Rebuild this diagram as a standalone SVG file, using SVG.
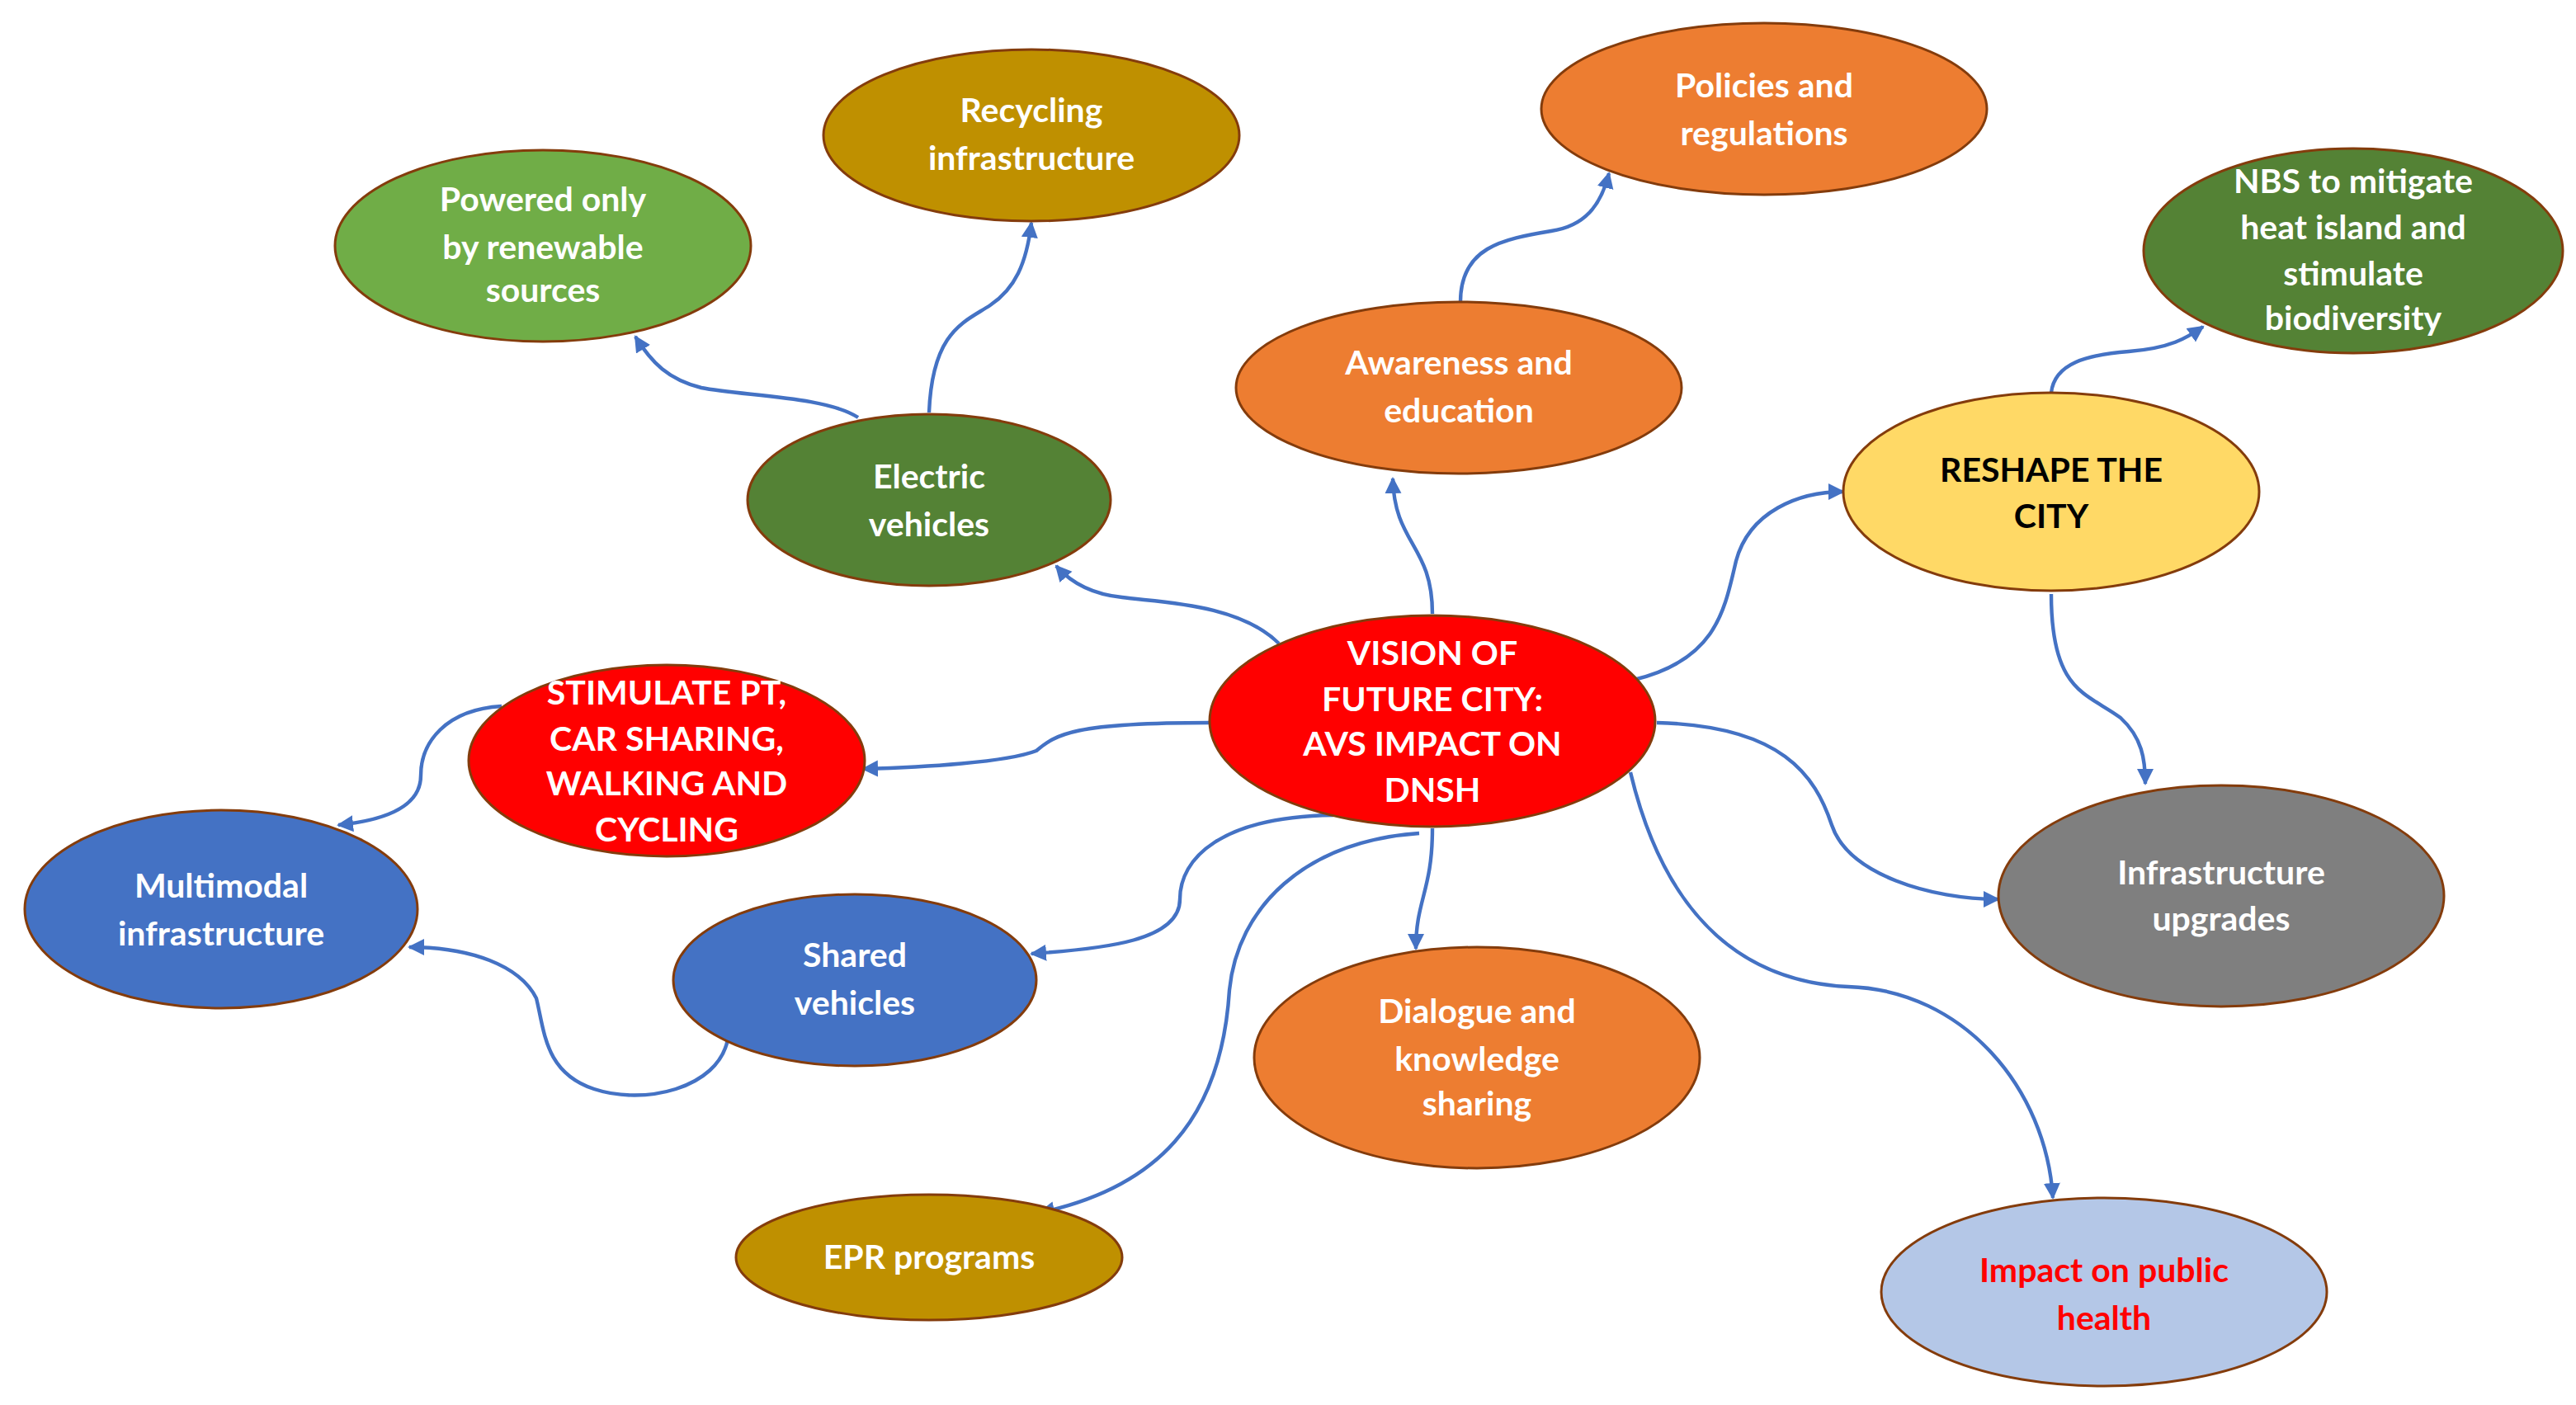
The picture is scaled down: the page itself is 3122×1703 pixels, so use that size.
<svg xmlns="http://www.w3.org/2000/svg" width="3122" height="1703" viewBox="0 0 3122 1703">
<style>
.n{stroke:#843C0C;stroke-width:1.5}
.t{font-family:Lato,"Liberation Sans",sans-serif;font-weight:bold;font-size:20.5px;fill:#fff;text-anchor:middle}
.k{fill:#000}
.r{fill:#FF0000}
.c path{fill:none;stroke:#4472C4;stroke-width:2.2;marker-end:url(#a)}
</style>
<defs><marker id="a" markerUnits="userSpaceOnUse" markerWidth="12" markerHeight="12" refX="9" refY="5" orient="auto"><path d="M0,0 L10,5 L0,10 Z" fill="#4472C4"/></marker></defs>
<rect width="3122" height="1703" fill="#fff"/>
<g transform="scale(2)">
<g class="c">
<path d="M868,372 C868,330 845,330 844,290"/>
<path d="M885,183 C885,150 910,145 940,140 C960,137 970,125 975,105"/>
<path d="M775,390 C750,365 700,365 680,362 C660,360 648,352 640,343"/>
<path d="M563,250 C565,200 585,195 600,185 C615,175 622,160 625,135"/>
<path d="M520,253 C500,240 450,240 425,235 C405,230 395,220 385,204"/>
<path d="M990,412 C1040,400 1045,370 1052,340 C1060,310 1090,298 1117,298"/>
<path d="M1243,238 C1245,220 1265,215 1290,213 C1315,211 1325,205 1335,198"/>
<path d="M1243,360 C1243,420 1265,420 1285,435 C1298,447 1300,460 1300,475"/>
<path d="M1004,438 C1080,440 1100,470 1110,500 C1120,530 1170,545 1211,545"/>
<path d="M988,468 C1010,560 1060,595 1120,598 C1190,600 1240,660 1244,726"/>
<path d="M868,502 C868,540 858,545 858,575"/>
<path d="M860,505 C790,510 750,550 745,600 C740,680 700,720 630,735"/>
<path d="M808,494 C740,495 715,520 715,545 C715,570 670,575 625,578"/>
<path d="M733,438 C650,438 640,445 628,455 C610,462 560,465 523,466"/>
<path d="M304,428 C270,430 255,450 255,470 C255,488 235,497 205,500"/>
<path d="M441,630 C435,660 390,670 360,660 C330,650 330,625 325,605 C315,585 285,574 248,574"/>
</g>
<g id="recycling"><ellipse class="n" cx="625" cy="82" rx="126" ry="52" fill="#BF9000"/><text class="t" x="625" y="74">Recycling</text><text class="t" x="625" y="103">infrastructure</text></g>
<g id="policies"><ellipse class="n" cx="1069" cy="66" rx="135" ry="52" fill="#ED7D31"/><text class="t" x="1069" y="59">Policies and</text><text class="t" x="1069" y="88">regulations</text></g>
<g id="powered"><ellipse class="n" cx="329" cy="149" rx="126" ry="58" fill="#70AD47"/><text class="t" x="329" y="128">Powered only</text><text class="t" x="329" y="157">by renewable</text><text class="t" x="329" y="183">sources</text></g>
<g id="nbs"><ellipse class="n" cx="1426" cy="152" rx="127" ry="62" fill="#548235"/><text class="t" x="1426" y="117">NBS to mitigate</text><text class="t" x="1426" y="145">heat island and</text><text class="t" x="1426" y="173">stimulate</text><text class="t" x="1426" y="200">biodiversity</text></g>
<g id="awareness"><ellipse class="n" cx="884" cy="235" rx="135" ry="52" fill="#ED7D31"/><text class="t" x="884" y="227">Awareness and</text><text class="t" x="884" y="256">education</text></g>
<g id="electric"><ellipse class="n" cx="563" cy="303" rx="110" ry="52" fill="#548235"/><text class="t" x="563" y="296">Electric</text><text class="t" x="563" y="325">vehicles</text></g>
<g id="reshape"><ellipse class="n" cx="1243" cy="298" rx="126" ry="60" fill="#FFD966"/><text class="t k" x="1243" y="292">RESHAPE THE</text><text class="t k" x="1243" y="320">CITY</text></g>
<g id="vision"><ellipse class="n" cx="868" cy="437" rx="135" ry="64" fill="#FF0000"/><text class="t" x="868" y="403">VISION OF</text><text class="t" x="868" y="431">FUTURE CITY:</text><text class="t" x="868" y="458">AVS IMPACT ON</text><text class="t" x="868" y="486">DNSH</text></g>
<g id="stimulate"><ellipse class="n" cx="404" cy="461" rx="120" ry="58" fill="#FF0000"/><text class="t" x="404" y="427">STIMULATE PT,</text><text class="t" x="404" y="455">CAR SHARING,</text><text class="t" x="404" y="482">WALKING AND</text><text class="t" x="404" y="510">CYCLING</text></g>
<g id="multimodal"><ellipse class="n" cx="134" cy="551" rx="119" ry="60" fill="#4472C4"/><text class="t" x="134" y="544">Multimodal</text><text class="t" x="134" y="573">infrastructure</text></g>
<g id="shared"><ellipse class="n" cx="518" cy="594" rx="110" ry="52" fill="#4472C4"/><text class="t" x="518" y="586">Shared</text><text class="t" x="518" y="615">vehicles</text></g>
<g id="upgrades"><ellipse class="n" cx="1346" cy="543" rx="135" ry="67" fill="#7F7F7F"/><text class="t" x="1346" y="536">Infrastructure</text><text class="t" x="1346" y="564">upgrades</text></g>
<g id="dialogue"><ellipse class="n" cx="895" cy="641" rx="135" ry="67" fill="#ED7D31"/><text class="t" x="895" y="620">Dialogue and</text><text class="t" x="895" y="649">knowledge</text><text class="t" x="895" y="676">sharing</text></g>
<g id="epr"><ellipse class="n" cx="563" cy="762" rx="117" ry="38" fill="#BF9000"/><text class="t" x="563" y="769">EPR programs</text></g>
<g id="impact"><ellipse class="n" cx="1275" cy="783" rx="135" ry="57" fill="#B4C7E7"/><text class="t r" x="1275" y="777">Impact on public</text><text class="t r" x="1275" y="806">health</text></g>
</g>
</svg>
